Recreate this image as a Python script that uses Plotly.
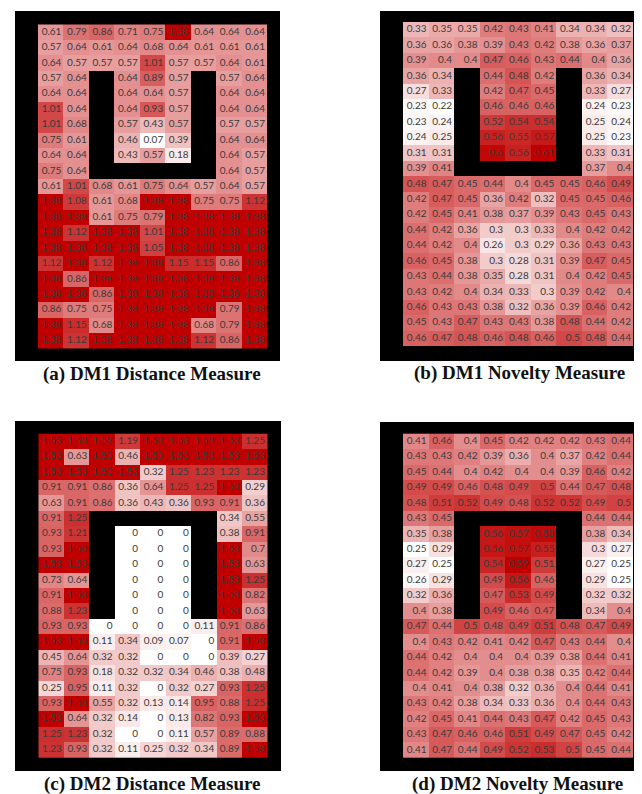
import plotly.graph_objects as go

W, H = 642, 794
N = None

# ---------------- data ----------------
dm1_distance = [
    [0.61, 0.79, 0.86, 0.71, 0.75, 1.38, 0.64, 0.64, 0.64],
    [0.57, 0.64, 0.61, 0.64, 0.68, 0.64, 0.61, 0.61, 0.61],
    [0.64, 0.57, 0.57, 0.57, 1.01, 0.57, 0.57, 0.64, 0.61],
    [0.57, 0.64, N, 0.64, 0.89, 0.57, N, 0.57, 0.64],
    [0.64, 0.64, N, 0.64, 0.64, 0.57, N, 0.64, 0.64],
    [1.01, 0.64, N, 0.64, 0.93, 0.57, N, 0.64, 0.64],
    [1.01, 0.68, N, 0.57, 0.43, 0.57, N, 0.57, 0.57],
    [0.75, 0.61, N, 0.46, 0.07, 0.39, N, 0.64, 0.64],
    [0.64, 0.64, N, 0.43, 0.57, 0.18, N, 0.64, 0.57],
    [0.75, 0.64, N, N, N, N, N, 0.64, 0.57],
    [0.61, 1.01, 0.68, 0.61, 0.75, 0.64, 0.57, 0.64, 0.57],
    [1.38, 1.08, 0.61, 0.68, 1.38, 1.38, 0.75, 0.75, 1.12],
    [1.38, 1.38, 0.61, 0.75, 0.79, 1.38, 1.38, 1.38, 1.38],
    [1.38, 1.12, 1.38, 1.38, 1.01, 1.38, 1.38, 1.38, 1.38],
    [1.38, 1.38, 1.38, 1.38, 1.05, 1.38, 1.38, 1.38, 1.38],
    [1.12, 1.38, 1.12, 1.38, 1.38, 1.15, 1.15, 0.86, 1.38],
    [1.38, 0.86, 1.38, 1.38, 1.38, 1.38, 1.38, 1.38, 1.38],
    [1.38, 1.38, 0.86, 1.38, 1.38, 1.38, 1.38, 1.38, 1.38],
    [0.86, 0.75, 0.75, 1.38, 1.38, 1.38, 1.38, 0.79, 1.38],
    [1.38, 1.15, 0.68, 1.38, 1.38, 1.38, 0.68, 0.79, 1.38],
    [1.38, 1.12, 1.38, 1.38, 1.38, 1.38, 1.12, 0.86, 1.38],
]

dm1_novelty = [
    [0.33, 0.35, 0.35, 0.42, 0.43, 0.41, 0.34, 0.34, 0.32],
    [0.36, 0.36, 0.38, 0.39, 0.43, 0.42, 0.38, 0.36, 0.37],
    [0.39, 0.4, 0.4, 0.47, 0.46, 0.43, 0.44, 0.4, 0.36],
    [0.36, 0.34, N, 0.44, 0.48, 0.42, N, 0.36, 0.34],
    [0.27, 0.33, N, 0.42, 0.47, 0.45, N, 0.33, 0.27],
    [0.23, 0.22, N, 0.46, 0.46, 0.46, N, 0.24, 0.23],
    [0.23, 0.24, N, 0.52, 0.54, 0.54, N, 0.25, 0.24],
    [0.24, 0.25, N, 0.56, 0.55, 0.57, N, 0.25, 0.23],
    [0.31, 0.31, N, 0.6, 0.56, 0.61, N, 0.33, 0.31],
    [0.39, 0.41, N, N, N, N, N, 0.37, 0.4],
    [0.48, 0.47, 0.45, 0.44, 0.4, 0.45, 0.45, 0.46, 0.49],
    [0.42, 0.47, 0.45, 0.36, 0.42, 0.32, 0.45, 0.45, 0.46],
    [0.42, 0.45, 0.41, 0.38, 0.37, 0.39, 0.43, 0.45, 0.43],
    [0.44, 0.42, 0.36, 0.3, 0.3, 0.33, 0.4, 0.42, 0.42],
    [0.44, 0.42, 0.4, 0.26, 0.3, 0.29, 0.36, 0.43, 0.43],
    [0.46, 0.45, 0.38, 0.3, 0.28, 0.31, 0.39, 0.47, 0.45],
    [0.43, 0.44, 0.38, 0.35, 0.28, 0.31, 0.4, 0.42, 0.45],
    [0.43, 0.42, 0.4, 0.34, 0.33, 0.3, 0.39, 0.42, 0.4],
    [0.46, 0.43, 0.43, 0.38, 0.32, 0.36, 0.39, 0.46, 0.42],
    [0.45, 0.43, 0.47, 0.43, 0.43, 0.38, 0.48, 0.44, 0.42],
    [0.46, 0.47, 0.48, 0.46, 0.48, 0.46, 0.5, 0.48, 0.44],
]

dm2_distance = [
    [1.53, 1.53, 1.53, 1.19, 1.53, 1.53, 1.53, 1.53, 1.25],
    [1.53, 0.63, 1.53, 0.46, 1.53, 1.53, 1.53, 1.53, 1.53],
    [1.53, 1.53, 1.53, 1.53, 0.32, 1.25, 1.23, 1.23, 1.23],
    [0.91, 0.91, 0.86, 0.36, 0.64, 1.25, 1.25, 1.53, 0.29],
    [0.63, 0.91, 0.86, 0.36, 0.43, 0.36, 0.93, 0.91, 0.36],
    [0.91, 1.25, N, N, N, N, N, 0.34, 0.55],
    [0.93, 1.21, N, 0, 0, 0, N, 0.38, 0.91],
    [0.93, 1.53, N, 0, 0, 0, N, 1.53, 0.7],
    [1.53, 1.53, N, 0, 0, 0, N, 1.53, 0.63],
    [0.73, 0.64, N, 0, 0, 0, N, 1.53, 1.25],
    [0.91, 1.53, N, 0, 0, 0, N, 1.53, 0.82],
    [0.88, 1.23, N, 0, 0, 0, N, 1.53, 0.63],
    [0.93, 0.93, 0, 0, 0, 0, 0.11, 0.91, 0.86],
    [1.53, 1.53, 0.11, 0.34, 0.09, 0.07, 0, 0.91, 1.53],
    [0.45, 0.64, 0.32, 0.32, 0, 0, 0, 0.39, 0.27],
    [0.75, 0.93, 0.18, 0.32, 0.32, 0.34, 0.46, 0.38, 0.48],
    [0.25, 0.95, 0.11, 0.32, 0, 0.32, 0.27, 0.93, 1.25],
    [0.93, 1.53, 0.55, 0.32, 0.13, 0.14, 0.95, 0.88, 1.25],
    [1.53, 0.64, 0.32, 0.14, 0, 0.13, 0.82, 0.93, 1.53],
    [1.25, 1.23, 0.32, 0, 0, 0.11, 0.57, 0.89, 0.88],
    [1.23, 0.93, 0.32, 0.11, 0.25, 0.32, 0.34, 0.89, 1.53],
]

dm2_novelty = [
    [0.41, 0.46, 0.4, 0.45, 0.42, 0.42, 0.42, 0.43, 0.44],
    [0.43, 0.43, 0.42, 0.39, 0.36, 0.4, 0.37, 0.42, 0.44],
    [0.45, 0.44, 0.4, 0.42, 0.4, 0.4, 0.39, 0.46, 0.42],
    [0.49, 0.49, 0.46, 0.48, 0.49, 0.5, 0.44, 0.47, 0.48],
    [0.48, 0.51, 0.52, 0.49, 0.48, 0.52, 0.52, 0.49, 0.5],
    [0.43, 0.45, N, N, N, N, N, 0.44, 0.44],
    [0.35, 0.38, N, 0.56, 0.57, 0.58, N, 0.38, 0.34],
    [0.25, 0.29, N, 0.56, 0.57, 0.55, N, 0.3, 0.27],
    [0.27, 0.25, N, 0.54, 0.59, 0.51, N, 0.27, 0.25],
    [0.26, 0.29, N, 0.49, 0.56, 0.46, N, 0.29, 0.25],
    [0.32, 0.36, N, 0.47, 0.53, 0.49, N, 0.32, 0.32],
    [0.4, 0.38, N, 0.49, 0.46, 0.47, N, 0.34, 0.4],
    [0.47, 0.44, 0.5, 0.48, 0.49, 0.51, 0.48, 0.47, 0.49],
    [0.4, 0.43, 0.42, 0.41, 0.42, 0.47, 0.43, 0.44, 0.4],
    [0.44, 0.42, 0.4, 0.4, 0.4, 0.39, 0.38, 0.44, 0.41],
    [0.44, 0.42, 0.39, 0.4, 0.38, 0.38, 0.35, 0.42, 0.44],
    [0.4, 0.41, 0.4, 0.38, 0.32, 0.36, 0.4, 0.44, 0.41],
    [0.43, 0.42, 0.38, 0.34, 0.33, 0.36, 0.4, 0.44, 0.43],
    [0.42, 0.45, 0.41, 0.44, 0.43, 0.47, 0.42, 0.45, 0.43],
    [0.43, 0.47, 0.46, 0.46, 0.51, 0.49, 0.47, 0.45, 0.42],
    [0.41, 0.47, 0.44, 0.49, 0.52, 0.53, 0.5, 0.45, 0.44],
]

captions = [
    "(a) DM1 Distance Measure",
    "(b) DM1 Novelty Measure",
    "(c) DM2 Distance Measure",
    "(d) DM2 Novelty Measure",
]
panels_data = [dm1_distance, dm1_novelty, dm2_distance, dm2_novelty]

# ---------------- layout geometry (pixels) ----------------
# black box (L, T, R, B) and cell grid (cL, cT, cR, cB)
geom = [
    ((7, 3, 272, 353), (30, 16.5, 259, 340.5)),
    ((372, 3, 633, 353), (395, 14, 625, 338)),
    ((7, 413, 273, 763), (30.5, 425.7, 259, 749.5)),
    ((372, 414, 632, 763), (395, 425.7, 625, 750)),
]
cap_pos = [(144, 366), (511, 365), (144, 776), (509, 776)]

ncol, nrow = 9, 21
fig = go.Figure()
RED = "#C00000"

for i, (z, ((L, T, R, B), (cL, cT, cR, cB))) in enumerate(zip(panels_data, geom)):
    k = "" if i == 0 else str(i + 1)
    xa, ya = "x" + k, "y" + k
    vals = [v for row in z for v in row if v is not None]
    zmin, zmax = min(vals), max(vals)
    fig.add_trace(go.Heatmap(
        z=z, x=list(range(ncol)), y=list(range(nrow)),
        colorscale=[[0, "#FFFFFF"], [1, RED]], zmin=zmin, zmax=zmax,
        showscale=False, hoverinfo="skip", xaxis=xa, yaxis=ya,
    ))
    tx, ty, tt = [], [], []
    for r, row in enumerate(z):
        for c, v in enumerate(row):
            if v is None:
                continue
            tx.append(c + 0.42)
            ty.append(r)
            tt.append(f"{v:g}")
    fig.add_trace(go.Scatter(
        x=tx, y=ty, text=tt, mode="text", textposition="middle left",
        textfont=dict(family="Lato, Open Sans, sans-serif", size=10, color="#3a3a3a"),
        hoverinfo="skip", showlegend=False, xaxis=xa, yaxis=ya,
    ))
    sx = (cR - cL) / ncol
    sy = (cB - cT) / nrow
    x0 = -0.5 - (cL - L) / sx
    x1 = ncol - 0.5 + (R - cR) / sx
    ytop = -0.5 - (cT - T) / sy
    ybot = nrow - 0.5 + (B - cB) / sy
    fig.layout["xaxis" + k] = dict(domain=[L / W, R / W], range=[x0, x1],
                                   visible=False, anchor=ya, fixedrange=True)
    fig.layout["yaxis" + k] = dict(domain=[1 - B / H, 1 - T / H], range=[ybot, ytop],
                                   visible=False, anchor=xa, fixedrange=True)
    cx, cy = cap_pos[i]
    fig.add_annotation(
        x=cx / W, y=1 - cy / H, xref="paper", yref="paper",
        text="<b>" + captions[i] + "</b>", showarrow=False,
        xanchor="center", yanchor="middle",
        font=dict(family="Liberation Serif, serif", size=19, color="#111111"),
    )

fig.update_layout(
    width=W, height=H, margin=dict(l=0, r=0, t=0, b=0),
    paper_bgcolor="white", plot_bgcolor="black", showlegend=False,
)
fig.write_html("out.html")
